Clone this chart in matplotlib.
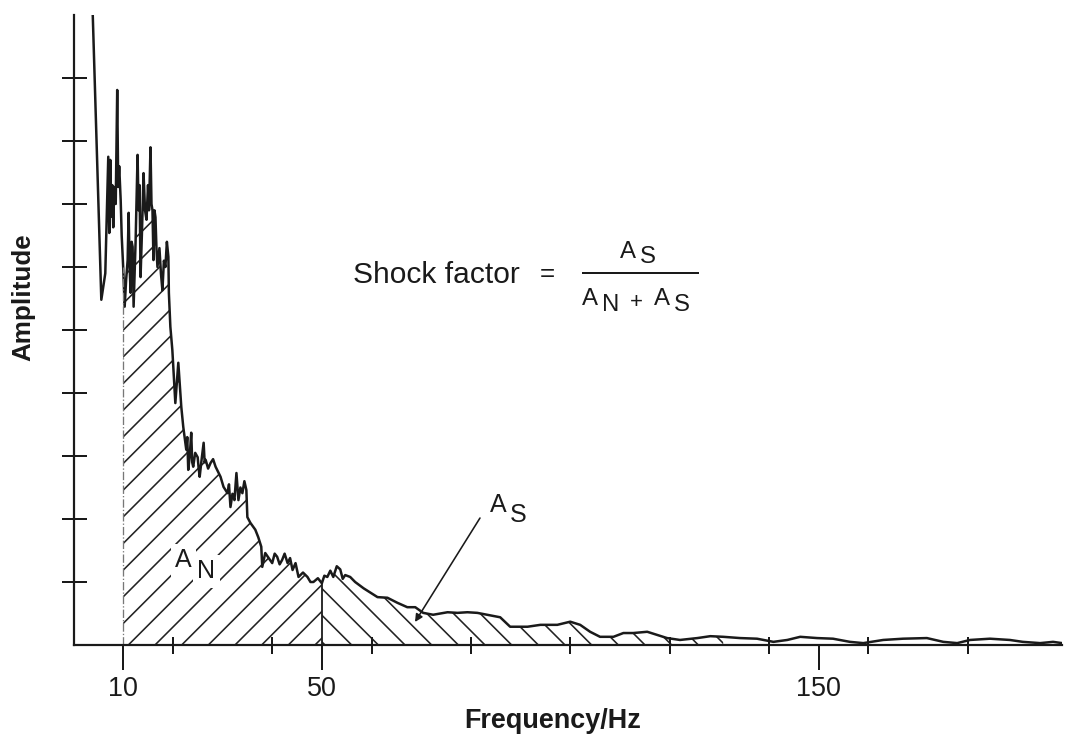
import matplotlib.pyplot as plt
from matplotlib.lines import Line2D
import numpy as np

# Spectrum (frequency in Hz, amplitude in tick units)
freq_hz = [3.8, 5.6, 6.4, 7.0, 7.2, 7.4, 7.6, 7.8, 8.0, 8.2, 8.5, 8.8, 9.0, 9.2, 9.5,
           9.7, 10.0, 10.3, 10.6, 10.9, 11.1, 11.3, 11.5, 11.7, 11.9, 12.1, 12.5,
           12.9, 13.1, 13.3, 13.5, 13.8, 14.1, 14.4, 14.7, 15.0, 15.2, 15.5, 15.7,
           15.9, 16.1, 16.3, 16.5, 16.7, 16.9, 17.3, 17.6, 17.9, 18.2, 18.5, 18.8,
           19.1, 19.2, 19.5, 19.9, 20.5, 21.1, 21.7, 22.1, 22.7, 22.9, 23.1, 23.4,
           23.7, 23.9, 24.1, 24.5, 25.0, 25.2, 25.4, 25.8, 26.2, 26.4, 26.6, 27.1,
           27.6, 28.1, 28.6, 29.1, 29.6, 30.2, 31.0, 31.3, 31.6, 32.0, 32.4, 32.8,
           33.2, 33.6, 34.0, 34.4, 34.8, 35.0, 35.6, 36.6, 37.2, 37.8, 38.0, 38.6,
           40.0, 40.5, 41.0, 41.5, 42.0, 42.5, 43.1, 43.6, 44.1, 44.7, 45.3, 46.2,
           47.1, 47.7, 48.3, 49.2, 50.0, 50.5, 51.1, 51.7, 52.3, 53.0, 53.7, 54.2,
           54.7, 55.7, 56.7, 58.4, 59.8, 61.2, 63.2, 65.2, 67.2, 68.8, 70.4, 72.4,
           75.3, 77.3, 79.3, 81.3, 83.3, 85.9, 87.9, 91.4, 94.0, 97.4, 100.0, 102.0,
           104.0, 106.0, 108.7, 110.7, 112.7, 115.5, 117.5, 119.5, 122.1, 125.6,
           128.2, 130.8, 134.2, 137.6, 140.9, 143.7, 146.3, 149.7, 152.9, 156.3,
           159.0, 163.0, 167.0, 171.8, 175.1, 177.9, 180.5, 184.5, 188.5, 191.1,
           194.6, 197.2, 199.0]
amplitude = [10.2, 5.48, 5.90, 7.75, 6.54, 7.70, 6.80, 7.30, 6.63, 7.27, 7.00, 8.81, 7.27, 7.60, 7.06,
             6.50, 6.00, 5.37, 5.80, 6.11, 6.86, 6.00, 5.59, 6.40, 6.32, 5.37, 6.40,
             7.78, 6.90, 7.30, 5.84, 6.60, 7.49, 6.90, 6.75, 7.30, 6.90, 7.90, 7.00,
             6.90, 6.11, 6.90, 6.79, 6.30, 6.00, 6.30, 5.90, 5.63, 6.10, 6.00, 6.40,
             6.16, 5.59, 5.05, 4.68, 3.84, 4.48, 3.78, 3.46, 3.10, 3.30, 2.78, 3.00,
             3.37, 2.90, 2.83, 3.05, 2.98, 2.80, 2.67, 2.95, 3.21, 2.90, 2.94, 2.80,
             2.89, 2.95, 2.83, 2.75, 2.67, 2.51, 2.41, 2.55, 2.19, 2.40, 2.30, 2.73,
             2.30, 2.50, 2.41, 2.60, 2.46, 2.03, 1.94, 1.83, 1.71, 1.56, 1.24, 1.46,
             1.30, 1.45, 1.40, 1.28, 1.35, 1.45, 1.30, 1.38, 1.19, 1.30, 1.08, 1.15,
             1.08, 1.00, 1.00, 1.06, 0.98, 1.10, 1.08, 1.18, 1.08, 1.25, 1.20, 1.05,
             1.11, 1.08, 1.00, 0.90, 0.83, 0.76, 0.75, 0.67, 0.60, 0.60, 0.51, 0.48,
             0.52, 0.51, 0.52, 0.51, 0.48, 0.44, 0.29, 0.29, 0.32, 0.32, 0.37, 0.32,
             0.21, 0.13, 0.13, 0.19, 0.19, 0.21, 0.16, 0.11, 0.08, 0.11,
             0.14, 0.13, 0.11, 0.10, 0.05, 0.08, 0.13, 0.11, 0.10, 0.05,
             0.03, 0.08, 0.10, 0.11, 0.05, 0.03, 0.08, 0.10, 0.08, 0.05,
             0.03, 0.05, 0.03]

an_start = 10      # start of noise area A_N
split_hz = 50      # A_N / A_S boundary
as_end = 131       # end of hatched A_S area
x_labels = [10, 50, 150]
x_minor = [20, 40, 60, 80, 100, 120, 140, 160, 180]
y_ticks = [1, 2, 3, 4, 5, 6, 7, 8, 9]

W, H, DPI = 1072, 736, 160


def pt(px):
    return px * 72 / DPI


def fx(x):
    return x / W


def fy(y):
    return 1 - y / H


plt.rcParams['font.family'] = ['Liberation Sans', 'DejaVu Sans']
plt.rcParams['hatch.linewidth'] = pt(1.6)

fig = plt.figure(figsize=(W / DPI, H / DPI), dpi=DPI)
ax = fig.add_axes([fx(73.5), fy(645), (1062 - 73.5) / W, 630 / H])

f = np.array(freq_hz)
a = np.array(amplitude)

# hatched areas
ax.fill_between(f, a, where=(f >= an_start) & (f <= split_hz), facecolor='none',
                edgecolor='#222222', hatch='//', linewidth=0)
ax.fill_between(f, a, where=(f >= split_hz) & (f <= as_end), facecolor='none',
                edgecolor='#222222', hatch='\\\\', linewidth=0)

ax.plot(f, a, color='#1a1a1a', lw=pt(2.5))

a10 = a[f == an_start][0]
a50 = a[f == split_hz][0]
ax.vlines(an_start, 0, a10, colors='#777777', linestyles='-.', lw=pt(1.3))
ax.vlines(split_hz, 0, a50, colors='#1a1a1a', lw=pt(1.8))

ax.set_xlim(0, 199)
ax.set_ylim(0, 10)

for s in ['top', 'right']:
    ax.spines[s].set_visible(False)
for s in ['left', 'bottom']:
    ax.spines[s].set_linewidth(pt(2.2))
    ax.spines[s].set_color('#1a1a1a')

ax.set_xticks(x_labels)
ax.set_xticklabels([str(v) for v in x_labels])
ax.set_xticks(x_minor, minor=True)
ax.set_yticks(y_ticks)
ax.set_yticklabels([])
ax.tick_params(axis='x', which='major', direction='out', length=pt(25),
               width=pt(2), pad=pt(6), labelsize=pt(27), colors='#1a1a1a')
ax.tick_params(axis='x', which='minor', direction='inout', length=pt(17),
               width=pt(2), color='#1a1a1a')
ax.tick_params(axis='y', which='major', direction='inout', length=pt(25),
               width=pt(2), color='#1a1a1a')

# axis titles
fig.text(fx(553), fy(721), 'Frequency/Hz', ha='center', va='center',
         fontsize=pt(27), fontweight='bold', color='#1a1a1a')
fig.text(fx(23), fy(297), 'Amplitude', ha='center', va='center', rotation=90,
         fontsize=pt(26), fontweight='bold', color='#1a1a1a')


def sub_label(x, y, main, sub, size, dx, dy, box=None):
    # main letter with a same-size lowered subscript, positions in pixels (baseline)
    fig.text(fx(x), fy(y), main, fontsize=pt(size), ha='left', va='baseline',
             color='#1a1a1a', bbox=box)
    fig.text(fx(x + dx), fy(y + dy), sub, fontsize=pt(size), ha='left',
             va='baseline', color='#1a1a1a', bbox=box)


white = dict(facecolor='white', edgecolor='none', pad=2)
sub_label(175, 567, 'A', 'N', 25, 22, 11, box=white)
sub_label(490, 512, 'A', 'S', 25, 20, 10)

# shock factor formula
fig.text(fx(353), fy(283), 'Shock factor', fontsize=pt(30), ha='left',
         va='baseline', color='#1a1a1a')
fig.text(fx(547), fy(281), '=', fontsize=pt(26), ha='center', va='baseline',
         color='#1a1a1a')
sub_label(620, 258, 'A', 'S', 24, 20, 5)
fig.add_artist(Line2D([fx(583), fx(698)], [fy(273), fy(273)], color='#1a1a1a',
                      lw=pt(2)))
sub_label(582, 305, 'A', 'N', 24, 20, 6)
fig.text(fx(636), fy(308), '+', fontsize=pt(22), ha='center', va='baseline',
         color='#1a1a1a')
sub_label(654, 305, 'A', 'S', 24, 20, 6)

# pointer to A_S area
ax.annotate('', xy=(415, H - 622), xycoords='figure pixels',
            xytext=(480, H - 518), textcoords='figure pixels',
            arrowprops=dict(arrowstyle='-|>', lw=pt(1.6), color='#1a1a1a',
                            mutation_scale=7, shrinkA=0, shrinkB=0))

fig.savefig('out.png', dpi=DPI)
